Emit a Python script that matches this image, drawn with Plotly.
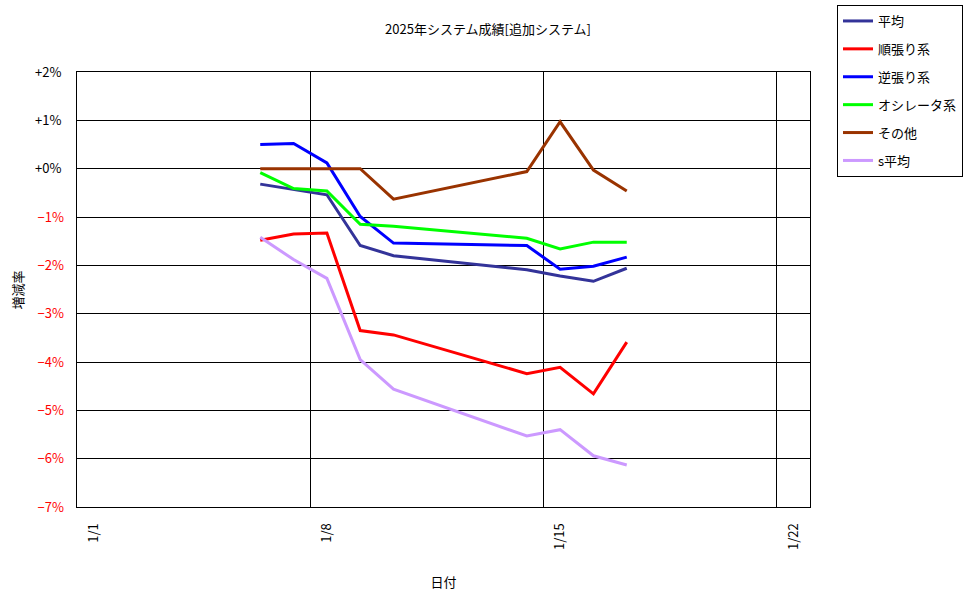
import plotly.graph_objects as go
import pandas as pd

dates = ["2025-01-06", "2025-01-07", "2025-01-08", "2025-01-09", "2025-01-10",
         "2025-01-14", "2025-01-15", "2025-01-16", "2025-01-17"]

avg = [-0.32, -0.43, -0.54, -1.59, -1.80, -2.09, -2.22, -2.33, -2.06]
trend = [-1.48, -1.35, -1.33, -3.35, -3.44, -4.24, -4.11, -4.66, -3.59]
contra = [0.50, 0.52, 0.12, -0.99, -1.54, -1.59, -2.08, -2.02, -1.83]
osc = [-0.08, -0.41, -0.46, -1.15, -1.19, -1.44, -1.66, -1.52, -1.52]
other = [0.0, 0.0, 0.0, 0.0, -0.63, -0.06, 0.97, -0.03, -0.46]
savg = [-1.42, -1.88, -2.27, -3.95, -4.56, -5.53, -5.40, -5.94, -6.13]

series_names = ["平均", "順張り系", "逆張り系", "オシレータ系", "その他", "s平均"]
series_values = [avg, trend, contra, osc, other, savg]
series_colors = ["#333399", "#FF0000", "#0000FF", "#00FF00", "#993300", "#CC99FF"]

x_tick_dates = ["2025-01-01", "2025-01-08", "2025-01-15", "2025-01-22"]
x_tick_text = ["1/1", "1/8", "1/15", "1/22"]
y_tick_pos = [2, 1, 0]
y_tick_neg = [-1, -2, -3, -4, -5, -6, -7]

FONT = "Noto Sans CJK JP"
Y_RANGE = [-7, 2]

x_range = [pd.Timestamp("2025-01-01") - pd.Timedelta(hours=12),
           pd.Timestamp("2025-01-22") + pd.Timedelta(hours=12)]
grid_vals = [pd.Timestamp(d) - pd.Timedelta(hours=12) for d in x_tick_dates]

fig = go.Figure()
for name, vals, col in zip(series_names, series_values, series_colors):
    fig.add_trace(go.Scatter(x=dates, y=vals, name=name, mode="lines",
                             line=dict(color=col, width=3), legendgroup=name))

# empty helper traces so the overlay axes (grid / red labels) render
fig.add_trace(go.Scatter(x=[x_range[0]], y=[None], xaxis="x2", showlegend=False,
                         hoverinfo="skip"))
fig.add_trace(go.Scatter(x=[x_range[0]], y=[None], yaxis="y3", showlegend=False,
                         hoverinfo="skip"))

fig.update_layout(
    width=976, height=599,
    margin=dict(l=77, r=166, t=72, b=92, autoexpand=False),
    paper_bgcolor="white", plot_bgcolor="white",
    font=dict(family=FONT, size=12, color="black"),
    title=dict(text="2025年システム成績[追加システム]", x=0.5, xref="container",
               y=1 - 29 / 599, yanchor="middle", xanchor="center",
               font=dict(size=13, family=FONT, color="black")),
    showlegend=True,
    legend=dict(x=(837 - 77) / 733, y=1 + (72 - 5) / 435, xanchor="left", yanchor="top",
                bordercolor="black", borderwidth=1, bgcolor="white",
                font=dict(size=13, family=FONT, color="black"), tracegroupgap=8,
                itemwidth=30),
    xaxis=dict(type="date", range=x_range, tickvals=x_tick_dates, ticktext=x_tick_text,
               tickangle=-90, showgrid=False, showline=True, linecolor="black",
               linewidth=1, mirror=True, ticks="", zeroline=False,
               tickfont=dict(size=13, color="black"), ticklabelstandoff=10,
               title=dict(text="日付", font=dict(size=13, color="black"), standoff=28)),
    xaxis2=dict(type="date", overlaying="x", range=x_range, tickvals=grid_vals,
                showticklabels=False, showgrid=True, gridcolor="black", gridwidth=1,
                ticks="", showline=False, zeroline=False),
    yaxis=dict(range=Y_RANGE, tickvals=y_tick_pos,
               ticktext=[f"+{v}%" for v in y_tick_pos],
               showgrid=True, gridcolor="black", gridwidth=1, zeroline=False,
               showline=True, linecolor="black", mirror=True, ticks="",
               tickfont=dict(size=13, color="black"), ticklabelstandoff=12),
    yaxis3=dict(range=Y_RANGE, overlaying="y", side="left", tickvals=y_tick_neg,
                ticktext=[f"\u2212{abs(v)}%" for v in y_tick_neg],
                showgrid=True, gridcolor="black", gridwidth=1, zeroline=False,
                showline=False, ticks="", tickfont=dict(size=13, color="#FF0000"),
                ticklabelstandoff=12),
    annotations=[dict(text="増減率", xref="paper", yref="paper",
                      x=(17 - 77) / 733, y=0.5, xanchor="center", yanchor="middle",
                      textangle=-90, showarrow=False,
                      font=dict(size=13, family=FONT, color="#000000"))],
)

fig.write_html("out.html")
